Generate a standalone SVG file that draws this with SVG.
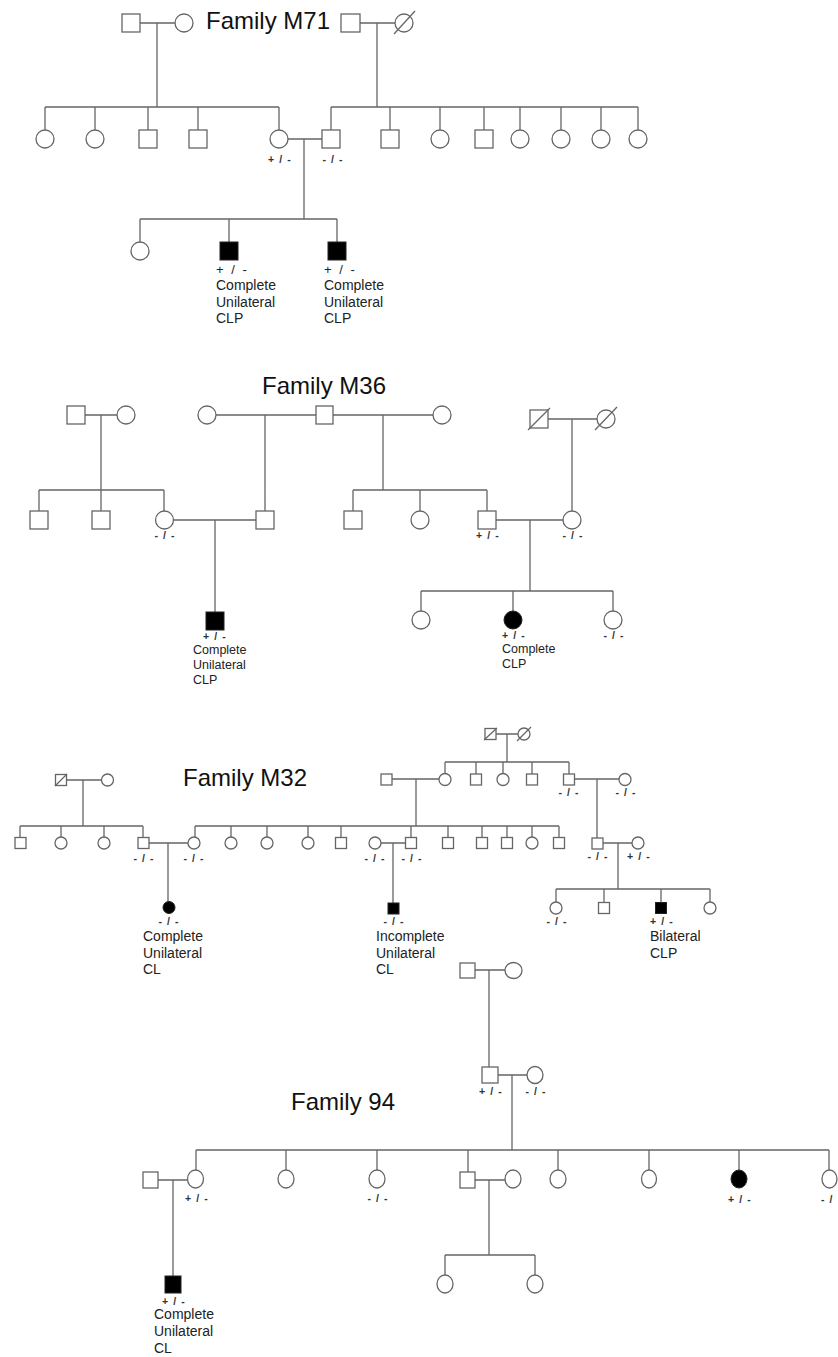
<svg xmlns="http://www.w3.org/2000/svg" width="838" height="1357" viewBox="0 0 838 1357">
<style>
.ln{stroke:#666;stroke-width:1.3;fill:none}
.sh{stroke:#666;stroke-width:1.3;fill:#fff}
.af{fill:#000;stroke:#222;stroke-width:1}
.sl{stroke:#666;stroke-width:1.3}
text{font-family:"Liberation Sans",Arial,sans-serif;fill:#222}
.ti{font-size:24px;fill:#111}
.d14{font-size:14px}
.d12{font-size:12.5px}
.g{font-size:10.5px;font-weight:bold;letter-spacing:1.1px;text-anchor:middle;fill:#333}
.g13{font-size:13px;letter-spacing:2px}
</style>
<rect width="838" height="1357" fill="#fff"/>

<g id="connectors">
<!-- M71 -->
<path class="ln" d="M140 23H175M157 23V107M45 107H279M45 107V130M95 107V130M148 107V130M198 107V130M279 107V130"/>
<path class="ln" d="M360 23H395M377 23V107M331 107H638M331 107V130M390 107V130M440 107V130M484 107V130M520 107V130M561 107V130M601 107V130M638 107V130"/>
<path class="ln" d="M288 139H322M304 139V219M140 219H337M140 219V242M229 219V242M337 219V242"/>
<!-- M36 -->
<path class="ln" d="M85 415H117M101 415V490M39 490H164M39 490V511M101 490V511M164 490V511"/>
<path class="ln" d="M216 415H316M265 415V511M333 415H433M383 415V490M353 490H487M353 490V511M420 490V511M487 490V511"/>
<path class="ln" d="M548 419H597M572 419V511"/>
<path class="ln" d="M173 520H256M215 520V612"/>
<path class="ln" d="M496 520H563M530 520V591M421 591H613M421 591V611M513 591V611M613 591V611"/>
<!-- M32 -->
<path class="ln" d="M67 780H102M83 780V826M20 826H143M20 826V837M61 826V837M104 826V837M143 826V837"/>
<path class="ln" d="M149 843H188M168 843V902"/>
<path class="ln" d="M496 734H518M507 734V762M445 762H569M445 762V774M476 762V774M503 762V774M532 762V774M569 762V774"/>
<path class="ln" d="M392 779H439M416 779V826M195 826H559M195 826V837M231 826V837M267 826V837M308 826V837M341 826V837M411 826V837M448 826V837M482 826V837M507 826V837M532 826V837M559 826V837"/>
<path class="ln" d="M381 843H405M393 843V903"/>
<path class="ln" d="M575 779H619M597 779V838"/>
<path class="ln" d="M603 843H632M618 843V889M556 889H710M556 889V902M604 889V902M661 889V902M710 889V902"/>
<!-- Family 94 -->
<path class="ln" d="M475 970H505M489 970V1067"/>
<path class="ln" d="M498 1075H527M512 1075V1150M196 1150H829M196 1150V1170M286 1150V1170M377 1150V1170M468 1150V1172M558 1150V1170M649 1150V1170M739 1150V1170M829 1150V1170"/>
<path class="ln" d="M158 1180H187M173 1180V1276"/>
<path class="ln" d="M475 1180H505M489 1180V1255M445 1255H535M445 1255V1275M535 1255V1275"/>
</g>

<!-- ===== Family M71 ===== -->
<g id="m71-title"><text class="ti" x="206" y="29">Family M71</text></g>
<g id="m71-gp1-f"><rect class="sh" x="122" y="14" width="18" height="18"/></g>
<g id="m71-gp1-m"><circle class="sh" cx="184" cy="23" r="9"/></g>
<g id="m71-gp2-f"><rect class="sh" x="341" y="14" width="19" height="18"/></g>
<g id="m71-gp2-m"><circle class="sh" cx="404" cy="23" r="9"/><line class="sl" x1="394" y1="34" x2="415" y2="11"/></g>
<g id="m71-c1"><circle class="sh" cx="45" cy="139" r="9"/></g>
<g id="m71-c2"><circle class="sh" cx="95" cy="139" r="9"/></g>
<g id="m71-c3"><rect class="sh" x="139" y="130" width="18" height="18"/></g>
<g id="m71-c4"><rect class="sh" x="189" y="130" width="18" height="18"/></g>
<g id="m71-mother"><circle class="sh" cx="279" cy="139" r="9"/><text class="g" x="280" y="163">+ / -</text></g>
<g id="m71-father"><rect class="sh" x="322" y="130" width="18" height="18"/><text class="g" x="333" y="163">- / -</text></g>
<g id="m71-s2"><rect class="sh" x="381" y="130" width="18" height="18"/></g>
<g id="m71-s3"><circle class="sh" cx="440" cy="139" r="9"/></g>
<g id="m71-s4"><rect class="sh" x="475" y="130" width="18" height="18"/></g>
<g id="m71-s5"><circle class="sh" cx="520" cy="139" r="9"/></g>
<g id="m71-s6"><circle class="sh" cx="561" cy="139" r="9"/></g>
<g id="m71-s7"><circle class="sh" cx="601" cy="139" r="9"/></g>
<g id="m71-s8"><circle class="sh" cx="638" cy="139" r="9"/></g>
<g id="m71-k1"><circle class="sh" cx="140" cy="251" r="9"/></g>
<g id="m71-k2"><rect class="af" x="220" y="242" width="18" height="18"/>
<text class="g13" x="216" y="274">+ / -</text>
<text class="d14" x="216" y="290">Complete</text><text class="d14" x="216" y="307">Unilateral</text><text class="d14" x="216" y="323">CLP</text></g>
<g id="m71-k3"><rect class="af" x="328" y="242" width="18" height="18"/>
<text class="g13" x="324" y="274">+ / -</text>
<text class="d14" x="324" y="290">Complete</text><text class="d14" x="324" y="307">Unilateral</text><text class="d14" x="324" y="323">CLP</text></g>

<!-- ===== Family M36 ===== -->
<g id="m36-title"><text class="ti" x="262" y="394">Family M36</text></g>
<g id="m36-a1"><rect class="sh" x="67" y="406" width="18" height="18"/></g>
<g id="m36-a2"><circle class="sh" cx="126" cy="415" r="9"/></g>
<g id="m36-b1"><circle class="sh" cx="207" cy="415" r="9"/></g>
<g id="m36-b2"><rect class="sh" x="316" y="406" width="17" height="18"/></g>
<g id="m36-b3"><circle class="sh" cx="442" cy="415" r="9"/></g>
<g id="m36-c1"><rect class="sh" x="530" y="410" width="18" height="18"/><line class="sl" x1="528" y1="430" x2="550" y2="408"/></g>
<g id="m36-c2"><circle class="sh" cx="606" cy="419" r="9"/><line class="sl" x1="595" y1="430" x2="617" y2="407"/></g>
<g id="m36-d1"><rect class="sh" x="30" y="511" width="18" height="18"/></g>
<g id="m36-d2"><rect class="sh" x="92" y="511" width="18" height="18"/></g>
<g id="m36-d3"><circle class="sh" cx="164.5" cy="520" r="9"/><text class="g" x="165" y="539">- / -</text></g>
<g id="m36-d4"><rect class="sh" x="256" y="511" width="18" height="18"/></g>
<g id="m36-d5"><rect class="sh" x="344" y="511" width="18" height="18"/></g>
<g id="m36-d6"><circle class="sh" cx="420" cy="520" r="9"/></g>
<g id="m36-d7"><rect class="sh" x="478" y="511" width="18" height="18"/><text class="g" x="488" y="539">+ / -</text></g>
<g id="m36-d8"><circle class="sh" cx="572" cy="520" r="9"/><text class="g" x="573" y="539">- / -</text></g>
<g id="m36-e1"><rect class="af" x="206" y="612" width="18" height="18"/>
<text class="g" x="215" y="640">+ / -</text>
<text class="d12" x="193" y="654">Complete</text><text class="d12" x="193" y="669">Unilateral</text><text class="d12" x="193" y="684">CLP</text></g>
<g id="m36-f1"><circle class="sh" cx="421" cy="620" r="9"/></g>
<g id="m36-f2"><circle class="af" cx="513" cy="620" r="9"/>
<text class="g" x="514" y="639">+ / -</text>
<text class="d12" x="502" y="653">Complete</text><text class="d12" x="502" y="668">CLP</text></g>
<g id="m36-f3"><circle class="sh" cx="613" cy="620" r="9"/><text class="g" x="614" y="639">- / -</text></g>

<!-- ===== Family M32 ===== -->
<g id="m32-title"><text class="ti" x="183" y="786">Family M32</text></g>
<g id="m32-a1"><rect class="sh" x="55.5" y="774.5" width="11" height="11"/><line class="sl" x1="55" y1="786" x2="67" y2="774"/></g>
<g id="m32-a2"><circle class="sh" cx="107.5" cy="780" r="6"/></g>
<g id="m32-b1"><rect class="sh" x="15" y="837.5" width="11" height="11"/></g>
<g id="m32-b2"><circle class="sh" cx="61" cy="843" r="6"/></g>
<g id="m32-b3"><circle class="sh" cx="104" cy="843" r="6"/></g>
<g id="m32-b4"><rect class="sh" x="138" y="837.5" width="11" height="11"/><text class="g" x="144" y="862">- / -</text></g>
<g id="m32-b5"><circle class="sh" cx="194" cy="843" r="6"/><text class="g" x="194" y="862">- / -</text></g>
<g id="m32-b6"><circle class="sh" cx="231" cy="843" r="6"/></g>
<g id="m32-b7"><circle class="sh" cx="267" cy="843" r="6"/></g>
<g id="m32-b8"><circle class="sh" cx="308" cy="843" r="6"/></g>
<g id="m32-b9"><rect class="sh" x="335.5" y="837.5" width="11" height="11"/></g>
<g id="m32-b10"><circle class="sh" cx="375" cy="843" r="6"/><text class="g" x="375" y="862">- / -</text></g>
<g id="m32-b11"><rect class="sh" x="405.5" y="837.5" width="11" height="11"/><text class="g" x="412" y="862">- / -</text></g>
<g id="m32-b12"><rect class="sh" x="442.5" y="837.5" width="11" height="11"/></g>
<g id="m32-b13"><rect class="sh" x="476.5" y="837.5" width="11" height="11"/></g>
<g id="m32-b14"><rect class="sh" x="501.5" y="837.5" width="11" height="11"/></g>
<g id="m32-b15"><circle class="sh" cx="532" cy="843" r="6"/></g>
<g id="m32-b16"><rect class="sh" x="553.5" y="837.5" width="11" height="11"/></g>
<g id="m32-g1"><rect class="sh" x="485" y="728.5" width="11" height="11"/><line class="sl" x1="484" y1="740" x2="497" y2="728"/></g>
<g id="m32-g2"><circle class="sh" cx="524" cy="734" r="6"/><line class="sl" x1="517" y1="741" x2="531" y2="727"/></g>
<g id="m32-h1"><rect class="sh" x="381" y="774" width="11" height="11"/></g>
<g id="m32-h2"><circle class="sh" cx="445" cy="779.5" r="6"/></g>
<g id="m32-h3"><rect class="sh" x="470.5" y="774" width="11" height="11"/></g>
<g id="m32-h4"><circle class="sh" cx="503" cy="779.5" r="6"/></g>
<g id="m32-h5"><rect class="sh" x="526.5" y="774" width="11" height="11"/></g>
<g id="m32-h6"><rect class="sh" x="563.5" y="774" width="11" height="11"/><text class="g" x="569" y="796">- / -</text></g>
<g id="m32-h7"><circle class="sh" cx="625" cy="779.5" r="6"/><text class="g" x="626" y="796">- / -</text></g>
<g id="m32-i1"><rect class="sh" x="592" y="838" width="11" height="11"/><text class="g" x="598" y="860">- / -</text></g>
<g id="m32-i2"><circle class="sh" cx="638" cy="843" r="6"/><text class="g" x="639" y="860">+ / -</text></g>
<g id="m32-k1"><circle class="af" cx="169" cy="907.5" r="6"/>
<text class="g" x="169" y="925">- / -</text>
<text class="d14" x="143" y="941">Complete</text><text class="d14" x="143" y="958">Unilateral</text><text class="d14" x="143" y="974">CL</text></g>
<g id="m32-k2"><rect class="af" x="388" y="903" width="11" height="11"/>
<text class="g" x="394" y="925">- / -</text>
<text class="d14" x="376" y="941">Incomplete</text><text class="d14" x="376" y="958">Unilateral</text><text class="d14" x="376" y="974">CL</text></g>
<g id="m32-k3"><circle class="sh" cx="556" cy="908" r="6"/><text class="g" x="557" y="925">- / -</text></g>
<g id="m32-k4"><rect class="sh" x="598.5" y="902.5" width="11" height="11"/></g>
<g id="m32-k5"><rect class="af" x="655.5" y="902.5" width="11" height="11"/>
<text class="g" x="662" y="925">+ / -</text>
<text class="d14" x="650" y="941">Bilateral</text><text class="d14" x="650" y="958">CLP</text></g>
<g id="m32-k6"><circle class="sh" cx="710" cy="908" r="6"/></g>

<!-- ===== Family 94 ===== -->
<g id="f94-title"><text class="ti" x="291" y="1110">Family 94</text></g>
<g id="f94-a1"><rect class="sh" x="460" y="963" width="15" height="15"/></g>
<g id="f94-a2"><ellipse class="sh" cx="513.5" cy="970.5" rx="8.5" ry="8"/></g>
<g id="f94-b1"><rect class="sh" x="482" y="1067" width="16" height="16"/><text class="g" x="491" y="1095">+ / -</text></g>
<g id="f94-b2"><ellipse class="sh" cx="535" cy="1075" rx="8" ry="8.5"/><text class="g" x="536" y="1095">- / -</text></g>
<g id="f94-c0"><rect class="sh" x="143" y="1172" width="15" height="16"/></g>
<g id="f94-c1"><ellipse class="sh" cx="195.5" cy="1179" rx="8" ry="9"/><text class="g" x="197" y="1202">+ / -</text></g>
<g id="f94-c2"><ellipse class="sh" cx="286" cy="1179" rx="8" ry="9"/></g>
<g id="f94-c3"><ellipse class="sh" cx="377" cy="1179" rx="8" ry="9"/><text class="g" x="378" y="1202">- / -</text></g>
<g id="f94-c4"><rect class="sh" x="460" y="1172" width="15" height="16"/></g>
<g id="f94-c4s"><ellipse class="sh" cx="513" cy="1179" rx="8" ry="9"/></g>
<g id="f94-c5"><ellipse class="sh" cx="558" cy="1179" rx="8" ry="9"/></g>
<g id="f94-c6"><ellipse class="sh" cx="649" cy="1179" rx="7.5" ry="9"/></g>
<g id="f94-c7"><ellipse class="af" cx="739" cy="1179" rx="8" ry="9"/><text class="g" x="740" y="1203">+ / -</text></g>
<g id="f94-c8"><ellipse class="sh" cx="829.5" cy="1179" rx="7.5" ry="9"/><text style="font-size:10.5px;font-weight:bold;letter-spacing:1.1px;fill:#333" x="821" y="1203">- /</text></g>
<g id="f94-d1"><rect class="af" x="165" y="1276" width="16" height="17"/>
<text class="g" x="174" y="1305">+ / -</text>
<text class="d14" x="154" y="1319">Complete</text><text class="d14" x="154" y="1336">Unilateral</text><text class="d14" x="154" y="1353">CL</text></g>
<g id="f94-d2"><ellipse class="sh" cx="445" cy="1284" rx="8" ry="9"/></g>
<g id="f94-d3"><ellipse class="sh" cx="535" cy="1284" rx="8" ry="9"/></g>
</svg>
